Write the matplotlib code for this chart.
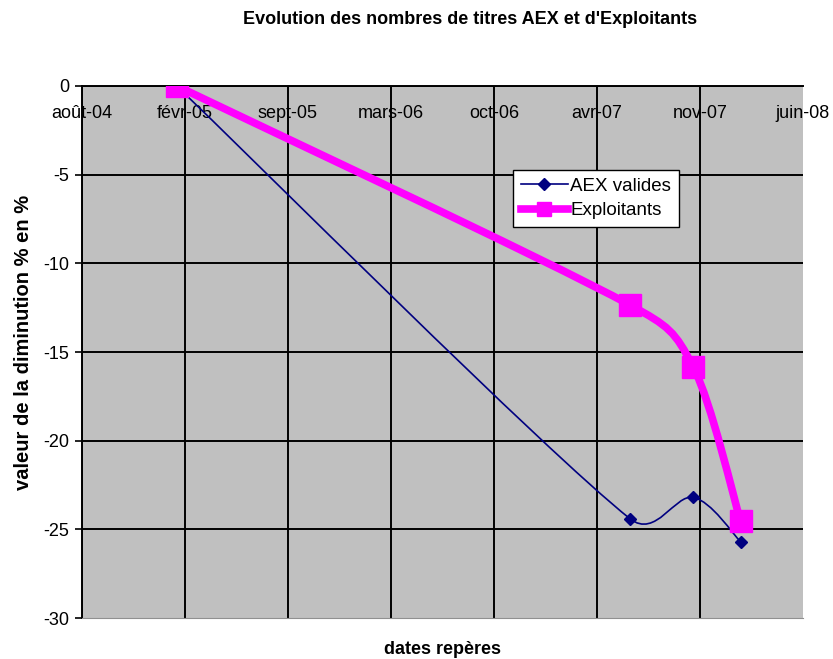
import matplotlib
matplotlib.use("Agg")
import numpy as np
import matplotlib.pyplot as plt
import matplotlib.dates as mdates
from matplotlib.path import Path
from matplotlib.patches import PathPatch
from matplotlib.lines import Line2D

plt.rcParams['font.family'] = ['Liberation Sans', 'DejaVu Sans']
plt.rcParams['axes.unicode_minus'] = False

# data
dates = ["2005-02-01", "2007-07-01", "2007-11-01", "2008-02-01"]
aex_valides = [0, -24.4, -23.2, -25.7]
exploitants = [0, -12.35, -15.85, -24.55]

# date axis: one tick every 200 days, like the Excel original
tick_dates = ["2004-08-01", "2005-02-17", "2005-09-05", "2006-03-24",
              "2006-10-10", "2007-04-28", "2007-11-14", "2008-06-01"]
tick_labels = ["août-04", "févr-05", "sept-05", "mars-06",
               "oct-06", "avr-07", "nov-07", "juin-08"]
y_ticks = [0, -5, -10, -15, -20, -25, -30]

x = mdates.datestr2num(dates)
xt = mdates.datestr2num(tick_dates)


def excel_smooth(ax, xs, ys, **kw):
    # Excel style smoothed line: bezier segments, control points from the
    # neighbours, capped at half the segment length (done in pixel space)
    tr = ax.transData
    pts = tr.transform(np.column_stack([xs, ys]))
    n = len(pts)
    verts = [pts[0]]
    codes = [Path.MOVETO]
    for i in range(n - 1):
        p0 = pts[max(i - 1, 0)]
        p1 = pts[i]
        p2 = pts[i + 1]
        p3 = pts[min(i + 2, n - 1)]
        d12 = np.hypot(*(p2 - p1))
        d02 = np.hypot(*(p2 - p0))
        d13 = np.hypot(*(p3 - p1))
        f1 = 1 / 6 if d02 / 6 < d12 / 2 else d12 / (2 * d02)
        f2 = 1 / 6 if d13 / 6 < d12 / 2 else d12 / (2 * d13)
        verts += [p1 + (p2 - p0) * f1, p2 - (p3 - p1) * f2, p2]
        codes += [Path.CURVE4] * 3
    verts = tr.inverted().transform(np.array(verts))
    ax.add_patch(PathPatch(Path(verts, codes), facecolor="none", **kw))


fig = plt.figure(figsize=(8.33, 6.59), dpi=100)
ax = fig.add_axes([0.0984, 0.0622, 0.8656, 0.8073])
ax.set_facecolor("#C0C0C0")

ax.set_xlim(xt[0], xt[-1])
ax.set_ylim(-30, 0)
ax.set_xticks(xt)
ax.set_xticklabels(tick_labels)
ax.set_yticks(y_ticks)
ax.set_yticklabels([str(v) for v in y_ticks])

ax.tick_params(axis="x", top=True, bottom=False, labeltop=True,
               labelbottom=False, length=0, pad=-26, labelsize=13)
ax.tick_params(axis="y", direction="out", length=5, width=1.2, labelsize=13, pad=4)

ax.set_axisbelow(True)
ax.grid(color="black", linewidth=1.4)
ax.get_xgridlines()[-1].set_visible(False)
ax.get_ygridlines()[-1].set_visible(False)

for side in ("left", "top"):
    ax.spines[side].set_color("black")
    ax.spines[side].set_linewidth(1.4)
ax.spines["right"].set_visible(False)
ax.spines["bottom"].set_color("#909090")
ax.spines["bottom"].set_linewidth(0.8)

excel_smooth(ax, x, aex_valides, edgecolor="#000080", linewidth=1.2, zorder=3)
ax.plot(x, aex_valides, linestyle="none", marker="D", markersize=6,
        color="#000080", zorder=4)

excel_smooth(ax, x, exploitants, edgecolor="#FF00FF", linewidth=5.5,
             capstyle="round", joinstyle="round", zorder=5)
ax.plot(x, exploitants, linestyle="none", marker="s", markersize=16,
        color="#FF00FF", zorder=6)

handles = [
    Line2D([], [], color="#000080", linewidth=1.2, marker="D", markersize=6),
    Line2D([], [], color="#FF00FF", linewidth=5.5, marker="s", markersize=10),
]
leg = ax.legend(handles, ["AEX valides", "Exploitants"], loc="upper left",
                bbox_to_anchor=(0.598, 0.842), borderaxespad=0, fontsize=13.5,
                frameon=True, fancybox=False, framealpha=1, edgecolor="black",
                handlelength=2.5, handletextpad=0.15, borderpad=0.4,
                labelspacing=0.4)
leg.get_frame().set_linewidth(1.0)
leg.set_zorder(10)

fig.text(0.564, 0.97, "Evolution des nombres de titres AEX et d'Exploitants",
         ha="center", va="center", fontsize=13, fontweight="bold")
fig.text(0.028, 0.481, "valeur de la diminution % en %", rotation=90,
         ha="center", va="center", fontsize=14.5, fontweight="bold")
fig.text(0.531, 0.0137, "dates repères", ha="center", va="center",
         fontsize=13, fontweight="bold")

fig.savefig("out.png", dpi=100)
